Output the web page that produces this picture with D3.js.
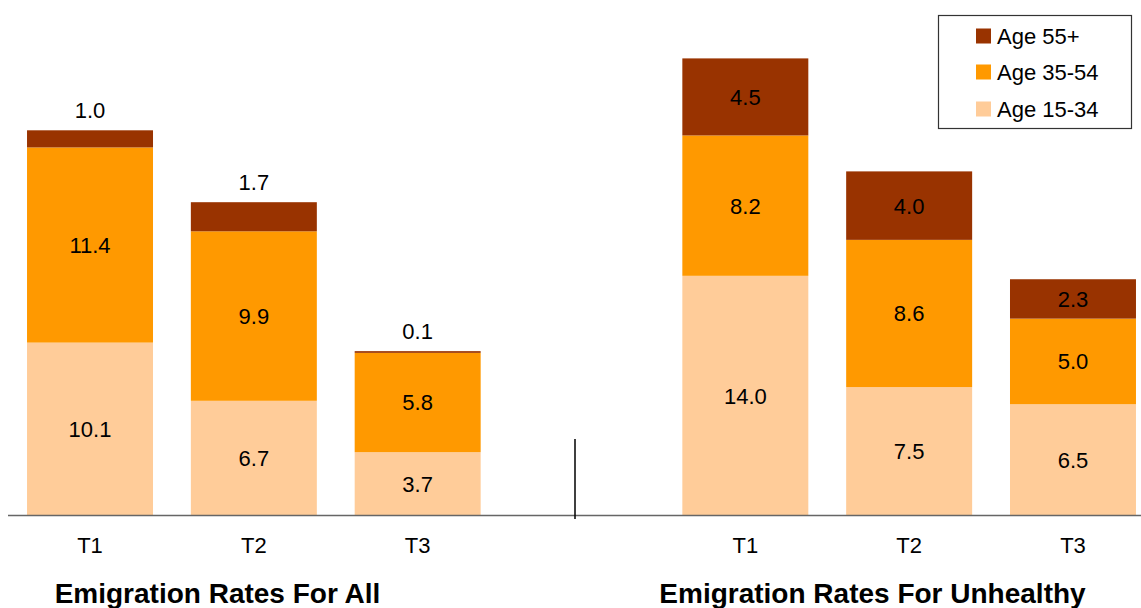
<!DOCTYPE html>
<html>
<head>
<meta charset="utf-8">
<script src="https://cdn.jsdelivr.net/npm/d3@7"></script>
<style>
  html, body { margin: 0; padding: 0; background: #fff; }
  svg { display: block; font-family: "Liberation Sans", Arial, sans-serif; }
</style>
</head>
<body>
<svg id="chart" width="1141" height="608"></svg>
<script>
// ---- data ----
const groups = ["Emigration Rates For All", "Emigration Rates For Unhealthy"];
const periods = ["T1", "T2", "T3"];
const seriesNames = ["Age 15-34", "Age 35-54", "Age 55+"];
const allAge1534 = [10.1, 6.7, 3.7];
const allAge3554 = [11.4, 9.9, 5.8];
const allAge55 = [1.0, 1.7, 0.1];
const unhAge1534 = [14.0, 7.5, 6.5];
const unhAge3554 = [8.2, 8.6, 5.0];
const unhAge55 = [4.5, 4.0, 2.3];
const colors = ["#FFCC99", "#FF9900", "#993300"];

// ---- build rows ----
const keys = ["A-T1", "A-T2", "A-T3", "gap", "U-T1", "U-T2", "U-T3"];
const rows = [];
periods.forEach((p, i) => rows.push({ key: "A-" + p, label: p, "Age 15-34": allAge1534[i], "Age 35-54": allAge3554[i], "Age 55+": allAge55[i] }));
periods.forEach((p, i) => rows.push({ key: "U-" + p, label: p, "Age 15-34": unhAge1534[i], "Age 35-54": unhAge3554[i], "Age 55+": unhAge55[i] }));

const svg = d3.select("#chart");
const baseY = 515.5;
const x = d3.scaleBand().domain(keys).range([8.1, 1154.9]).paddingInner(0.231).paddingOuter(0.1155);
const y = d3.scaleLinear().domain([0, 30]).range([baseY, baseY - 30 * 17.12]);

const stack = d3.stack().keys(seriesNames);
const stacked = stack(rows);

const layers = svg.append("g").selectAll("g").data(stacked).join("g")
  .attr("fill", (d, i) => colors[i]);
layers.selectAll("rect").data(d => d).join("rect")
  .attr("x", d => x(d.data.key))
  .attr("width", x.bandwidth())
  .attr("y", d => y(d[1]))
  .attr("height", d => y(d[0]) - y(d[1]));

// value labels
const labelG = svg.append("g").attr("font-size", 22).attr("fill", "#000").attr("text-anchor", "middle");
stacked.forEach((layer, li) => {
  layer.forEach(d => {
    const v = d[1] - d[0];
    const h = y(d[0]) - y(d[1]);
    const cx = x(d.data.key) + x.bandwidth() / 2;
    let cy;
    if (h < 32) cy = y(d[1]) - 20; // label above small top segment
    else cy = (y(d[0]) + y(d[1])) / 2;
    labelG.append("text")
      .attr("x", cx).attr("y", cy).attr("dy", "0.36em")
      .text(v.toFixed(1));
  });
});

// baseline axis
const axis = d3.axisBottom(x).tickSize(0).tickFormat(k => k === "gap" ? "" : k.slice(2));
const axG = svg.append("g").attr("transform", `translate(0,${baseY})`).call(axis);
axG.select(".domain").attr("d", `M8,0H1141`).attr("stroke", "#666").attr("stroke-width", 1.5);
axG.selectAll(".tick text").attr("font-size", 22).attr("fill", "#000")
  .attr("font-family", "'Liberation Sans', Arial, sans-serif").attr("dy", 0).attr("y", 37.5);

// divider
svg.append("line").attr("x1", 575).attr("x2", 575).attr("y1", 439).attr("y2", 519)
  .attr("stroke", "#000").attr("stroke-width", 1.5);

// group titles
const titleX = [217.5, 872.5];
svg.append("g").selectAll("text").data(groups).join("text")
  .attr("x", (d, i) => titleX[i]).attr("y", 603)
  .attr("text-anchor", "middle").attr("font-size", 28).attr("font-weight", "bold")
  .attr("fill", "#000").text(d => d);

// legend
const lg = svg.append("g");
lg.append("rect").attr("x", 938.5).attr("y", 15.5).attr("width", 193).attr("height", 113)
  .attr("fill", "#fff").attr("stroke", "#333").attr("stroke-width", 1.2);
const legendOrder = [2, 1, 0];
const legendY = [36, 72, 109];
legendOrder.forEach((si, r) => {
  lg.append("rect").attr("x", 976).attr("y", legendY[r] - 7.5).attr("width", 15).attr("height", 15).attr("fill", colors[si]);
  lg.append("text").attr("x", 997).attr("y", legendY[r]).attr("dy", "0.36em")
    .attr("font-size", 22).attr("fill", "#000").text(seriesNames[si]);
});
</script>
</body>
</html>
